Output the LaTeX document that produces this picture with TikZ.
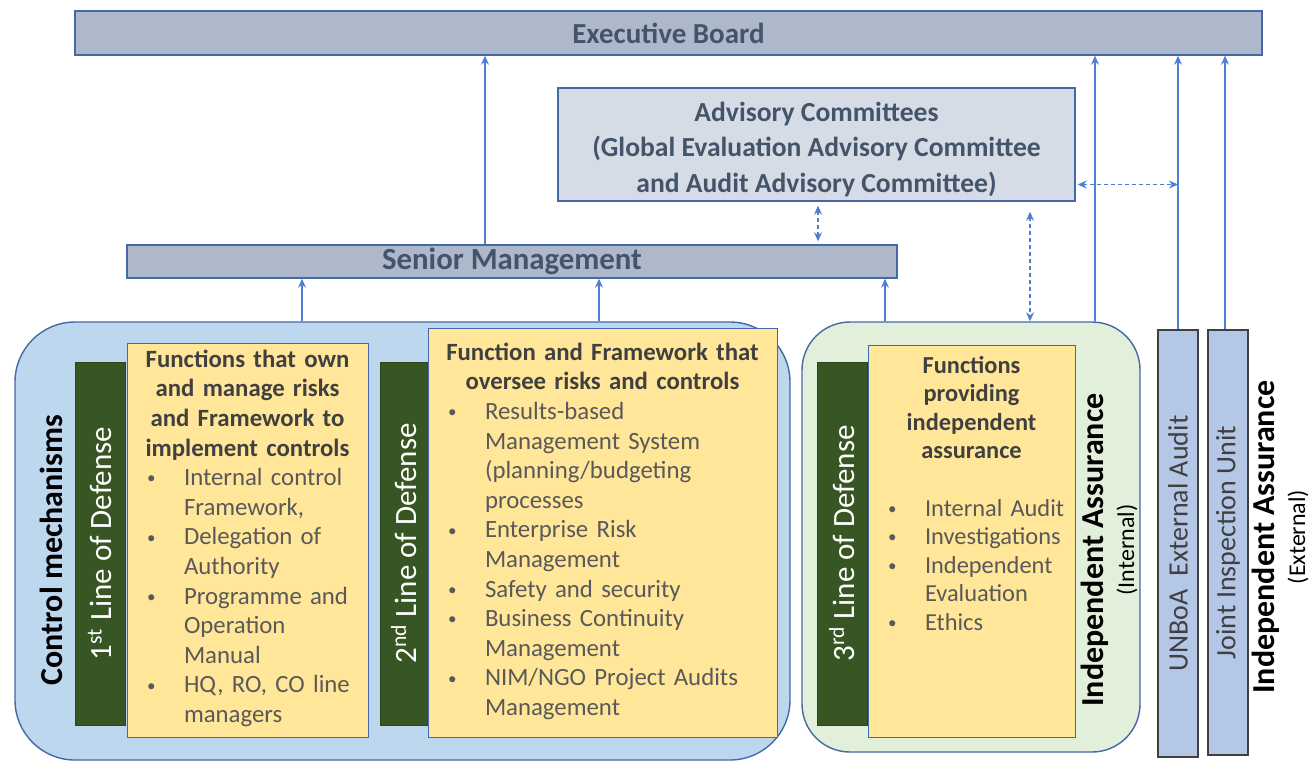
\documentclass[tikz,border=0pt]{standalone}
\usepackage{fontspec}
\setmainfont{Carlito}
\usetikzlibrary{arrows.meta, positioning}
\definecolor{brdfill}{HTML}{ADB9CA}
\definecolor{brdline}{HTML}{4468A8}
\definecolor{advfill}{HTML}{D6DCE5}
\definecolor{cmfill}{HTML}{BDD7EE}
\definecolor{iafill}{HTML}{E2EFDA}
\definecolor{lodfill}{HTML}{375623}
\definecolor{funfill}{HTML}{FFE699}
\definecolor{extfill}{HTML}{B4C7E7}
\definecolor{lnk}{HTML}{4F7FD0}
\definecolor{hdtxt}{HTML}{44546A}
\definecolor{ittxt}{HTML}{595959}
\newcommand\bul[1]{\par\hangindent=28.5pt\hangafter=1\noindent\hbox to 28.5pt{\hskip10pt\raisebox{0.9pt}{\fontsize{8.5}{8.5}\selectfont\textbullet}\hfil}{\let\\\newline#1}\par}
\tikzset{%
    brd/.style={rectangle, draw=brdline, line width=0.7pt, inner sep=0pt, text=hdtxt},
    grp/.style={rectangle, draw=brdline, line width=0.7pt, rounded corners=24pt},
    lod/.style={rectangle, fill=lodfill, draw=lodfill!80!black, rotate=90, inner sep=0pt, text=white, font=\fontsize{15.5}{18}\selectfont},
    fun/.style={rectangle, fill=funfill, draw=brdline, line width=0.5pt, inner sep=0pt},
    ftxt/.style={inner sep=0pt, text=ittxt, font=\fontsize{12.4}{14.8}\selectfont},
    ext/.style={rectangle, fill=extfill, draw=black!75, line width=0.8pt, rotate=90, inner sep=0pt, text=black!75, font=\fontsize{14}{17}\selectfont},
    vlab/.style={rotate=90, inner sep=0pt, align=center, font=\bfseries\fontsize{16}{15.5}\selectfont},
    seca/.style={line width=0.6pt, draw=lnk, -{Stealth[length=4.5pt, width=4pt]}},
    secda/.style={seca, {Stealth[length=4.5pt, width=4pt]}-{Stealth[length=4.5pt, width=4pt]}, dash pattern=on 2pt off 1.5pt},
}
\begin{document}
\begin{tikzpicture}[x=0.5pt, y=-0.5pt]
    \useasboundingbox (0,0) rectangle (1310,762);
    % governing bodies
    \node[brd, fill=brdfill, minimum width=593.5pt, minimum height=22pt, font=\bfseries\fontsize{14.5}{17}\selectfont] (exb) at (668.5,33) {Executive Board};
    \node[brd, fill=advfill, minimum width=258.5pt, minimum height=56.5pt, align=center, font=\bfseries\fontsize{13.8}{17.75}\selectfont] (adv) at (816.5,144.5) {\strut\\[-16pt]Advisory Committees\\(Global Evaluation Advisory Committee\\and Audit Advisory Committee)};
    \node[brd, fill=brdfill, minimum width=385pt, minimum height=16.5pt, font=\bfseries\fontsize{15.4}{18}\selectfont] (sen) at (512,261.5) {Senior Management};
    % groups
    \node[grp, fill=cmfill, minimum width=387.5pt, minimum height=219pt, rounded corners=30pt] (cm) at (402.5,541) {};
    \node[grp, fill=iafill, minimum width=169pt, minimum height=215pt] (ia) at (971,537) {};
    \node[ext, minimum width=213.5pt, minimum height=20pt] (ext) at (1178,543.5) {UNBoA~ External Audit};
    \node[ext, minimum width=212.5pt, minimum height=20pt] (jiu) at (1228,542.5) {Joint Inspection Unit};
    % lines of defense
    \node[lod, minimum width=181.5pt, minimum height=25pt] (l1) at (100,543.5) {1\textsuperscript{st} Line of Defense};
    \node[lod, minimum width=181.5pt, minimum height=24pt] (l2) at (404,543.5) {2\textsuperscript{nd} Line of Defense};
    \node[lod, minimum width=181.5pt, minimum height=25pt] (l3) at (842,543.5) {3\textsuperscript{rd} Line of Defense};
    \node[fun, minimum width=120.5pt, minimum height=197pt] (f1) at (247.5,540) {};
    \node[fun, minimum width=174.5pt, minimum height=204.5pt] (f2) at (602.5,532.5) {};
    \node[fun, minimum width=103.5pt, minimum height=196pt] (f3) at (971.5,541) {};
    \node[ftxt, text width=120.5pt, below=3.5pt of f1.north] (t1) {{\centering\bfseries\color{black!75}Functions that own\\and manage risks\\and Framework to\\implement controls\par}
        \raggedright
        \bul{Internal control\\Framework,}
        \bul{Delegation of\\Authority}
        \bul{Programme and\\Operation\\Manual}
        \bul{HQ, RO, CO line\\managers}};
    \node[ftxt, text width=174.5pt, below=7.5pt of f2.north] (t2) {{\centering\bfseries\color{black!75}Function and Framework that\\oversee risks and controls\par}
        \raggedright
        \bul{Results-based\\Management System\\(planning/budgeting\\processes}
        \bul{Enterprise Risk\\Management}
        \bul{Safety and security}
        \bul{Business Continuity\\Management}
        \bul{NIM/NGO Project Audits\\Management}};
    \node[ftxt, text width=103.5pt, below=5.5pt of f3.north, font=\fontsize{12.2}{14.3}\selectfont] (t3) {{\centering\bfseries\color{black!75}Functions\\providing\\independent\\assurance\par}
        \raggedright\strut\par
        \bul{Internal Audit}
        \bul{Investigations}
        \bul{Independent\\Evaluation}
        \bul{Ethics}};
    % side labels
    \node[vlab] (cml) at (51,550) {Control mechanisms};
    \node[vlab] (ial) at (1109,550) {Independent Assurance\\{\mdseries\fontsize{12}{15.5}\selectfont (Internal)}};
    \node[vlab] (eal) at (1280,537) {Independent Assurance\\{\mdseries\fontsize{12}{15.5}\selectfont (External)}};
    % reporting lines
    \draw[seca] ([xshift=-13.5pt]sen.north) -- ([xshift=-13.5pt]sen.north |- exb.south);
    \draw[seca] ([xshift=-50.25pt]cm.north) -- ([xshift=-50.25pt]cm.north |- sen.south);
    \draw[seca] ([xshift=98.25pt]cm.north) -- ([xshift=98.25pt]cm.north |- sen.south);
    \draw[seca] ([xshift=-43pt]ia.north) -- ([xshift=-43pt]ia.north |- sen.south);
    \draw[seca] ([xshift=62pt]ia.north) -- ([xshift=62pt]ia.north |- exb.south);
    \draw[seca] (ext.east) -- (ext.east |- exb.south);
    \draw[seca] ([xshift=-1.5pt]jiu.east) -- ([xshift=-1.5pt]jiu.east |- exb.south);
    \draw[secda, shorten <=2pt, shorten >=1.5pt] ([xshift=0.75pt]adv.south) -- ([xshift=0.75pt]adv.south |- sen.north);
    \draw[secda] ([shift={(106.75pt,-5pt)}]adv.south) -- ([xshift=106.75pt]adv.south |- ia.north);
    \draw[secda, shorten <=1pt] ([yshift=-20pt]adv.east) -- ([yshift=-20pt]adv.east -| ext.east);
\end{tikzpicture}
\end{document}
